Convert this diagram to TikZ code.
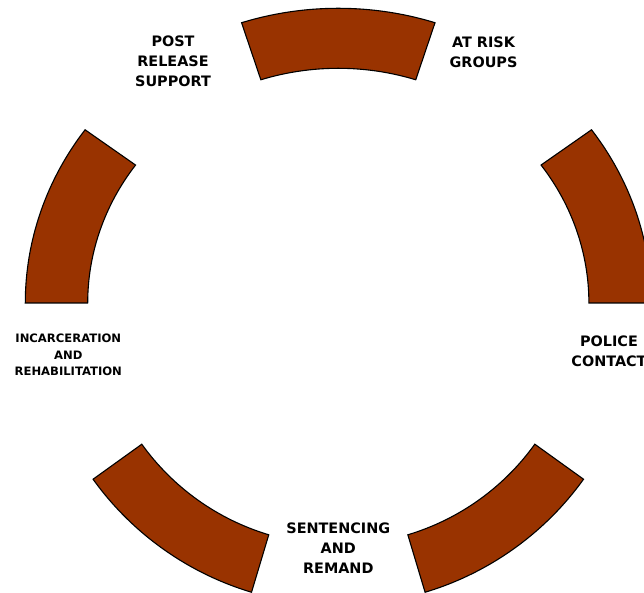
\documentclass[tikz,border=0pt]{standalone}
\usepackage{fontspec}
\setmainfont{DejaVu Sans}
\definecolor{rust}{HTML}{993300}

\begin{document}
\begin{tikzpicture}[
		x=1pt, y=1pt,
		segment/.style={draw=black, line width=1.1pt, fill=rust, line join=miter},
		outer/.style={x radius=313pt, y radius=294.7pt},
		inner/.style={x radius=250.6pt, y radius=234.7pt},
		lowouter/.style={radius=302pt},
		lowinner/.style={radius=242pt},
		biglabel/.style={align=center, font=\fontsize{14.4}{20}\selectfont\bfseries},
		smalllabel/.style={align=center, font=\fontsize{11.6}{16.3}\selectfont\bfseries}
		]
	
		\useasboundingbox (-338.3,-290) rectangle (305.7,303);
		
		% Ring segments
		\draw[segment] (0:313pt and 294.7pt) arc[outer, start angle=0, end angle=36] -- (36:250.6pt and 234.7pt) arc[inner, start angle=36, end angle=0] -- cycle;
		\draw[segment] (72:313pt and 294.7pt) arc[outer, start angle=72, end angle=108] -- (108:250.6pt and 234.7pt) arc[inner, start angle=108, end angle=72] -- cycle;
		\draw[segment] (144:313pt and 294.7pt) arc[outer, start angle=144, end angle=180] -- (180:250.6pt and 234.7pt) arc[inner, start angle=180, end angle=144] -- cycle;
		\draw[segment] (215.7:302pt) arc[lowouter, start angle=215.7, end angle=253.3] -- (253.3:242pt) arc[lowinner, start angle=253.3, end angle=215.7] -- cycle;
		\draw[segment] (286.7:302pt) arc[lowouter, start angle=286.7, end angle=324.3] -- (324.3:242pt) arc[lowinner, start angle=324.3, end angle=286.7] -- cycle;
		
		% Labels
		\node[biglabel] at (145.2,251) (atrisk) {AT RISK\\GROUPS};
		\node[biglabel] at (270.7,-48) (police) {POLICE\\CONTACT};
		\node[biglabel] at (0,-245) (sentencing) {SENTENCING\\AND\\REMAND};
		\node[smalllabel] at (-270,-52) (incarceration) {INCARCERATION\\AND\\REHABILITATION};
		\node[biglabel] at (-165.3,242) (postrelease) {POST\\RELEASE\\SUPPORT};
		
	\end{tikzpicture}
\end{document}
